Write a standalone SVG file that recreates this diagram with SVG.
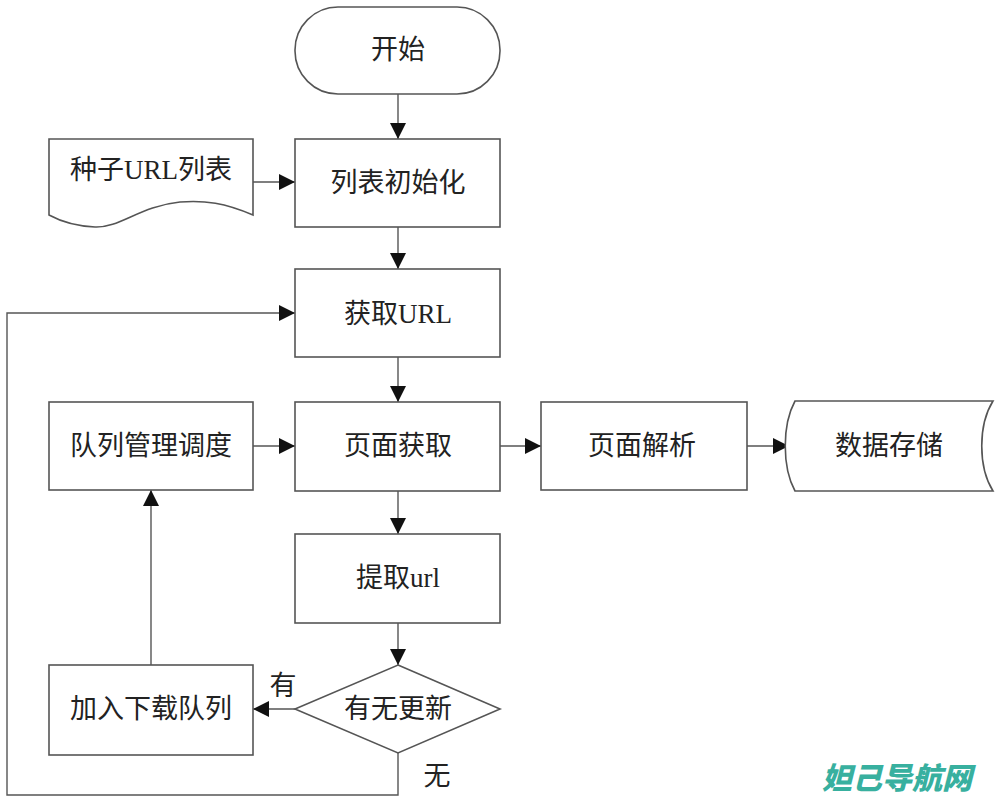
<svg xmlns="http://www.w3.org/2000/svg" width="1000" height="799" viewBox="0 0 1000 799">
<style>
.box{fill:#fff;stroke:#555;stroke-width:1.6}
.line{fill:none;stroke:#555;stroke-width:1.4}
.t{font-family:"Liberation Serif","Noto Sans CJK SC",serif;font-size:27px;fill:#222;text-anchor:middle;dominant-baseline:central}
.wm{font-family:"Noto Sans CJK SC",sans-serif;font-size:30px;font-weight:900;font-style:italic;fill:#38b09f;text-anchor:middle;dominant-baseline:central}
</style>
<defs>
<marker id="arr" markerUnits="userSpaceOnUse" markerWidth="18" markerHeight="16" refX="16" refY="8" orient="auto">
<path d="M0,0 L16,8 L0,16 Z" fill="#111"/>
</marker>
</defs>
<rect width="1000" height="799" fill="#fff"/>
<g id="connectors">
<line class="line" x1="398" y1="94" x2="398" y2="139" marker-end="url(#arr)"/>
<line class="line" x1="253" y1="182" x2="295" y2="182" marker-end="url(#arr)"/>
<line class="line" x1="398" y1="227" x2="398" y2="269" marker-end="url(#arr)"/>
<line class="line" x1="398" y1="357" x2="398" y2="402" marker-end="url(#arr)"/>
<line class="line" x1="253" y1="446" x2="295" y2="446" marker-end="url(#arr)"/>
<line class="line" x1="500" y1="446" x2="541" y2="446" marker-end="url(#arr)"/>
<line class="line" x1="747" y1="446" x2="789" y2="446" marker-end="url(#arr)"/>
<line class="line" x1="398" y1="491" x2="398" y2="534" marker-end="url(#arr)"/>
<line class="line" x1="398" y1="623" x2="398" y2="665" marker-end="url(#arr)"/>
<line class="line" x1="295" y1="709" x2="253" y2="709" marker-end="url(#arr)"/>
<line class="line" x1="151" y1="665" x2="151" y2="490" marker-end="url(#arr)"/>
<polyline class="line" points="398,753 398,795 7,795 7,313 295,313" marker-end="url(#arr)"/>
<text class="t" x="283" y="686">有</text>
<text class="t" x="437" y="776">无</text>
</g>
<g id="start">
<rect class="box" x="295" y="7" width="205" height="87" rx="43" ry="43"/>
<text class="t" x="398" y="50">开始</text>
</g>
<g id="seed">
<path class="box" d="M49,139 H253 V215 C225,203 205,200 180,202 C140,206 120,228 95,227 C75,226 60,221 49,215 Z"/>
<text class="t" x="151" y="170">种子URL列表</text>
</g>
<g id="init">
<rect class="box" x="295" y="139" width="205" height="88"/>
<text class="t" x="398" y="183">列表初始化</text>
</g>
<g id="geturl">
<rect class="box" x="295" y="269" width="205" height="88"/>
<text class="t" x="398" y="314">获取URL</text>
</g>
<g id="queue">
<rect class="box" x="49" y="402" width="204" height="88"/>
<text class="t" x="151" y="446">队列管理调度</text>
</g>
<g id="fetch">
<rect class="box" x="295" y="402" width="205" height="89"/>
<text class="t" x="398" y="446">页面获取</text>
</g>
<g id="parse">
<rect class="box" x="541" y="402" width="206" height="88"/>
<text class="t" x="642" y="446">页面解析</text>
</g>
<g id="store">
<path class="box" d="M795,401 H993 C978,425 978,467 993,491 H795 C782,467 782,425 795,401 Z"/>
<text class="t" x="889" y="446">数据存储</text>
</g>
<g id="extract">
<rect class="box" x="295" y="534" width="205" height="89"/>
<text class="t" x="398" y="578">提取url</text>
</g>
<g id="decision">
<polygon class="box" points="398,665 500,709 398,753 295,709"/>
<text class="t" x="398" y="709">有无更新</text>
</g>
<g id="enqueue">
<rect class="box" x="49" y="665" width="204" height="90"/>
<text class="t" x="151" y="709">加入下载队列</text>
</g>
<text class="wm" x="897" y="776">妲己导航网</text>
</svg>
